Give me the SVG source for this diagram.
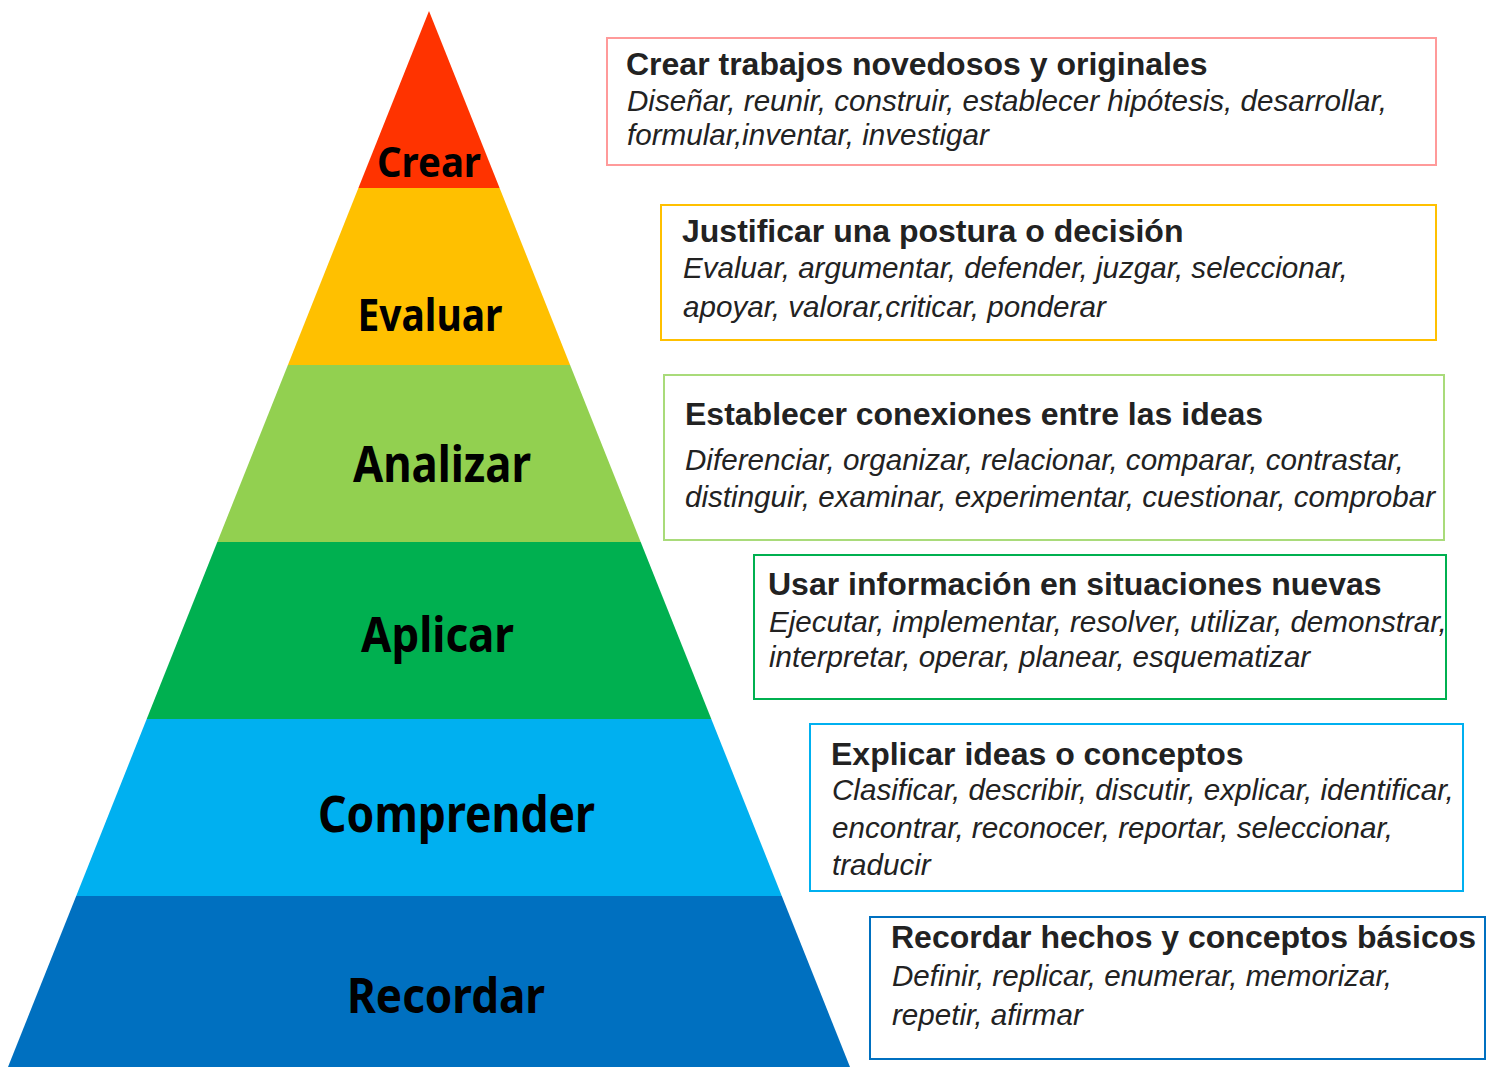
<svg xmlns="http://www.w3.org/2000/svg" width="1494" height="1067" viewBox="0 0 1494 1067">
<style>
.lvl{font-family:"Noto Sans","Open Sans",sans-serif;font-weight:bold;fill:#000;text-anchor:middle}
.box{fill:#fff;stroke-width:2}
.ttl{font-family:"Liberation Sans",Arial,sans-serif;font-weight:bold;font-size:32px;fill:#222}
.txt{font-family:"Liberation Sans",Arial,sans-serif;font-style:italic;font-size:29.6px;fill:#222}
</style>
<rect width="1494" height="1067" fill="#fff"/>
<g id="connectors"/>
<g id="crear">
<polygon points="429,11 499.6,188 358.4,188" fill="#FF3300"/>
<text class="lvl" x="429" y="177" font-size="42" textLength="104" lengthAdjust="spacingAndGlyphs">Crear</text>
</g>
<g id="evaluar">
<polygon points="358.4,188 499.6,188 570.1,365 287.9,365" fill="#FFC000"/>
<text class="lvl" x="430" y="331" font-size="45" textLength="145" lengthAdjust="spacingAndGlyphs">Evaluar</text>
</g>
<g id="analizar">
<polygon points="287.9,365 570.1,365 640.7,542 217.3,542" fill="#92D050"/>
<text class="lvl" x="442" y="482" font-size="51" textLength="178" lengthAdjust="spacingAndGlyphs">Analizar</text>
</g>
<g id="aplicar">
<polygon points="217.3,542 640.7,542 711.3,719 146.7,719" fill="#00B050"/>
<text class="lvl" x="437.5" y="652" font-size="49" textLength="153" lengthAdjust="spacingAndGlyphs">Aplicar</text>
</g>
<g id="comprender">
<polygon points="146.7,719 711.3,719 781.8,896 76.2,896" fill="#00B0F0"/>
<text class="lvl" x="456.5" y="832" font-size="50" textLength="277" lengthAdjust="spacingAndGlyphs">Comprender</text>
</g>
<g id="recordar">
<polygon points="76.2,896 781.8,896 850,1067 8,1067" fill="#0070C0"/>
<text class="lvl" x="446" y="1013" font-size="49" textLength="198" lengthAdjust="spacingAndGlyphs">Recordar</text>
</g>
<g id="box-crear">
<rect class="box" x="607" y="38" width="829" height="127" stroke="#FF9A9A"/>
<text class="ttl" x="626" y="75">Crear trabajos novedosos y originales</text>
<text class="txt" x="627" y="111">Diseñar, reunir, construir, establecer hipótesis, desarrollar,</text>
<text class="txt" x="627" y="145">formular,inventar, investigar</text>
</g>
<g id="box-evaluar">
<rect class="box" x="661" y="205" width="775" height="135" stroke="#FFC000"/>
<text class="ttl" x="682" y="242">Justificar una postura o decisión</text>
<text class="txt" x="683" y="278">Evaluar, argumentar, defender, juzgar, seleccionar,</text>
<text class="txt" x="683" y="317">apoyar, valorar,criticar, ponderar</text>
</g>
<g id="box-analizar">
<rect class="box" x="664" y="375" width="780" height="165" stroke="#A9DB7A"/>
<text class="ttl" x="685" y="425">Establecer conexiones entre las ideas</text>
<text class="txt" x="685" y="470">Diferenciar, organizar, relacionar, comparar, contrastar,</text>
<text class="txt" x="685" y="507">distinguir, examinar, experimentar, cuestionar, comprobar</text>
</g>
<g id="box-aplicar">
<rect class="box" x="754" y="555" width="692" height="144" stroke="#00B050"/>
<text class="ttl" x="768" y="595">Usar información en situaciones nuevas</text>
<text class="txt" x="769" y="632">Ejecutar, implementar, resolver, utilizar, demonstrar,</text>
<text class="txt" x="769" y="667">interpretar, operar, planear, esquematizar</text>
</g>
<g id="box-comprender">
<rect class="box" x="810" y="724" width="653" height="167" stroke="#00B0F0"/>
<text class="ttl" x="831" y="765">Explicar ideas o conceptos</text>
<text class="txt" x="832" y="800">Clasificar, describir, discutir, explicar, identificar,</text>
<text class="txt" x="832" y="838">encontrar, reconocer, reportar, seleccionar,</text>
<text class="txt" x="832" y="875">traducir</text>
</g>
<g id="box-recordar">
<rect class="box" x="870" y="917" width="615" height="142" stroke="#0070C0"/>
<text class="ttl" x="891" y="948">Recordar hechos y conceptos básicos</text>
<text class="txt" x="892" y="986">Definir, replicar, enumerar, memorizar,</text>
<text class="txt" x="892" y="1025">repetir, afirmar</text>
</g>
</svg>
